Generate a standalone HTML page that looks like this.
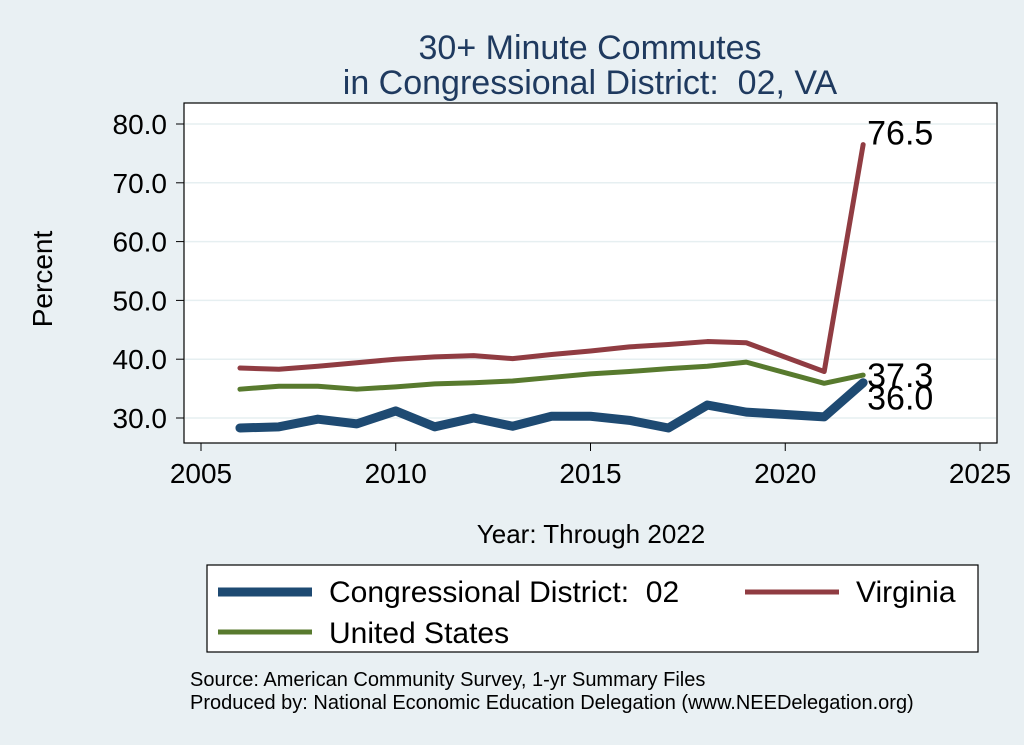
<!DOCTYPE html>
<html><head><meta charset="utf-8"><style>
body{margin:0;background:#e9f0f3;}
svg{display:block;font-family:"Liberation Sans",Arial,sans-serif;}
text{white-space:pre;}
</style></head><body>
<svg width="1024" height="745">
<rect width="1024" height="745" fill="#e9f0f3"/>
<text x="590" y="59" font-size="34" text-anchor="middle" fill="#1f3a5f">30+ Minute Commutes</text>
<text x="590" y="94" font-size="34" text-anchor="middle" fill="#1f3a5f">in Congressional District:  02, VA</text>
<rect x="184" y="103" width="813" height="340" fill="#fff" stroke="#000" stroke-width="1.2"/>
<g id="grid"></g>
<g id="axes"></g>
<g id="series"></g>
<text x="52" y="279" font-size="28" text-anchor="middle" transform="rotate(-90 52 279)">Percent</text>
<text x="591" y="543" font-size="26" text-anchor="middle">Year: Through 2022</text>
<rect x="207" y="565" width="771" height="87" fill="#fff" stroke="#000" stroke-width="1.2"/>
<g>
<line x1="218" y1="592" x2="312" y2="592" stroke="#1e4a72" stroke-width="9"/>
<text x="329" y="602" font-size="30">Congressional District:  02</text></g>
<g>
<line x1="745" y1="592" x2="839" y2="592" stroke="#903c42" stroke-width="5"/>
<text x="856" y="602" font-size="30">Virginia</text></g>
<g>
<line x1="218" y1="632" x2="312" y2="632" stroke="#587a2e" stroke-width="5"/>
<text x="329" y="643" font-size="30">United States</text></g>
<text x="190" y="686" font-size="20">Source: American Community Survey, 1-yr Summary Files</text>
<text x="190" y="709" font-size="20">Produced by: National Economic Education Delegation (www.NEEDelegation.org)</text>
</svg>
<script>
const years=[2006,2007,2008,2009,2010,2011,2012,2013,2014,2015,2016,2017,2018,2019,2021,2022];
const district=[28.3,28.5,29.8,29.0,31.2,28.5,30.0,28.6,30.3,30.3,29.6,28.3,32.2,31.0,30.2,36.0];
const virginia=[38.5,38.3,38.8,39.4,40.0,40.4,40.6,40.1,40.8,41.4,42.1,42.5,43.0,42.8,37.9,76.5];
const us=[34.9,35.4,35.4,34.9,35.3,35.8,36.0,36.3,36.9,37.5,37.9,38.4,38.8,39.5,35.9,37.3];
const xTicks=[2005,2010,2015,2020,2025];
const yTicks=[30,40,50,60,70,80];
const NS='http://www.w3.org/2000/svg';
const X=v=>201+(v-2005)*38.95;
const Y=v=>418-(v-30)*5.88;
function mk(t,a,p){const e=document.createElementNS(NS,t);for(const k in a)e.setAttribute(k,a[k]);p.appendChild(e);return e;}
const grid=document.getElementById('grid'),axes=document.getElementById('axes'),ser=document.getElementById('series');
yTicks.forEach(v=>{
 const g=mk('line',{x1:185,x2:996,y1:Y(v),y2:Y(v),stroke:'#e6eff1','stroke-width':1.5},grid);
 
 
 const t=mk('line',{x1:176,x2:184,y1:Y(v),y2:Y(v),stroke:'#000'},axes);
 
 
 const l=mk('text',{x:167,y:Y(v)+10,'font-size':28,'text-anchor':'end'},axes);l.textContent=v.toFixed(1);
 
 
});
xTicks.forEach(v=>{
 const t=mk('line',{x1:X(v),x2:X(v),y1:443,y2:451,stroke:'#000'},axes);
 
 
 const l=mk('text',{x:X(v),y:483,'font-size':28,'text-anchor':'middle'},axes);l.textContent=v;
 
 
});
function line(vals,color,w,name){
 const p=mk('polyline',{points:years.map((y,i)=>X(y)+','+Y(vals[i])).join(' '),fill:'none',stroke:color,'stroke-width':w,'stroke-linejoin':'round','stroke-linecap':'round'},ser);
 
 
}
line(virginia,'#903c42',5,'virginia-line');
line(us,'#587a2e',5,'us-line');
line(district,'#1e4a72',9,'district-line');
const n=years.length-1;
[[virginia,0,'virginia-end-label'],[us,12,'us-end-label'],[district,27,'district-end-label']].forEach(([vals,dy,nm])=>{
 const t=mk('text',{x:X(years[n])+4,y:Y(vals[n])+dy,'font-size':34},ser);t.textContent=vals[n].toFixed(1);
 
 
});
</script>
</body></html>
